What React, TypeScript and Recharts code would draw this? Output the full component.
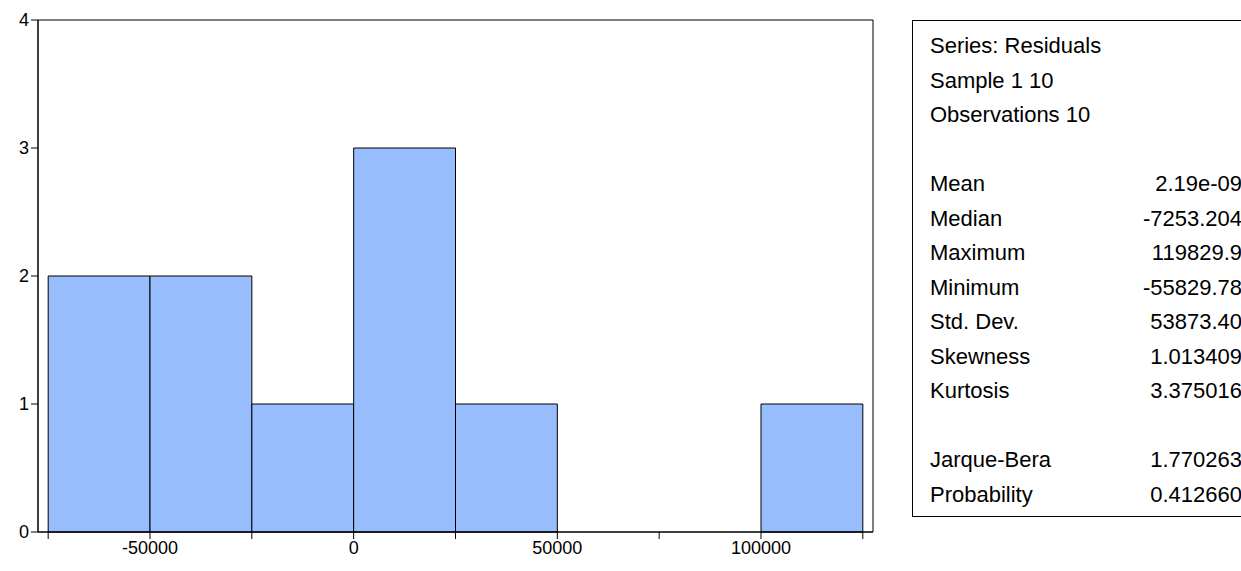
import { ComposedChart, XAxis, YAxis, ReferenceArea, Line } from 'recharts';

const binStarts = [-75000, -50000, -25000, 0, 25000, 50000, 75000, 100000];
const binWidth = 25000;
const counts = [2, 2, 1, 3, 1, 0, 0, 1];
const xTicks = [-75000, -50000, -25000, 0, 25000, 50000, 75000, 100000, 125000];
const xLabels = [-50000, 0, 50000, 100000];
const yTicks = [0, 1, 2, 3, 4];

const statsHead = ['Series: Residuals', 'Sample 1 10', 'Observations 10'];
const statsRows: [string, string][] = [
  ['Mean', '2.19e-09'],
  ['Median', '-7253.204'],
  ['Maximum', '119829.9'],
  ['Minimum', '-55829.78'],
  ['Std. Dev.', '53873.40'],
  ['Skewness', '1.013409'],
  ['Kurtosis', '3.375016'],
];
const testRows: [string, string][] = [
  ['Jarque-Bera', '1.770263'],
  ['Probability', '0.412660'],
];

const font = '"Liberation Sans", Arial, sans-serif';

const data = binStarts.map((s, i) => ({ x: s + binWidth / 2, count: counts[i] }));

export default function App() {
  const line = { height: 34.5, lineHeight: '34.5px' };
  const row = (r: [string, string]) => (
    <div key={r[0]} style={{ ...line, display: 'flex', justifyContent: 'space-between' }}>
      <span>{r[0]}</span>
      <span>{r[1]}</span>
    </div>
  );
  return (
    <div style={{ position: 'absolute', left: 0, top: 0, width: 1241, height: 571, background: '#fff', fontFamily: font }}>
      <ComposedChart data={data} width={900} height={571} margin={{ top: 20, right: 27, left: 8, bottom: 9 }}>
        <XAxis
          type="number"
          dataKey="x"
          domain={[-77500, 127500]}
          ticks={xTicks}
          tickFormatter={(v) => (xLabels.includes(v) ? String(v) : '')}
          tick={{ fontSize: 18, fill: '#000' }}
          stroke="#000"
          tickSize={7}
          height={30}
          allowDataOverflow
        />
        <YAxis
          type="number"
          dataKey="count"
          domain={[0, 4]}
          ticks={yTicks}
          tick={{ fontSize: 18, fill: '#000' }}
          stroke="#000"
          tickSize={7}
          width={30}
        />
        {binStarts.map((s, i) =>
          counts[i] > 0 ? (
            <ReferenceArea
              key={s}
              x1={s}
              x2={s + binWidth}
              y1={0}
              y2={counts[i]}
              fill="#97BDFD"
              fillOpacity={1}
              stroke="#000"
              strokeWidth={1}
            />
          ) : null
        )}
        <ReferenceArea x1={-77500} x2={127500} y1={0} y2={4} fill="none" stroke="#000" strokeWidth={1} />
        <Line dataKey="count" stroke="none" dot={false} isAnimationActive={false} />
      </ComposedChart>
      <div
        style={{
          position: 'absolute',
          left: 912,
          top: 20,
          width: 340,
          height: 497,
          border: '1px solid #000',
          boxSizing: 'border-box',
          padding: '8px 0 0 17px',
          fontSize: 22,
          color: '#000',
        }}
      >
        <div style={{ width: 312 }}>
          {statsHead.map((t) => (
            <div key={t} style={line}>{t}</div>
          ))}
          <div style={line} />
          {statsRows.map(row)}
          <div style={line} />
          {testRows.map(row)}
        </div>
      </div>
    </div>
  );
}
